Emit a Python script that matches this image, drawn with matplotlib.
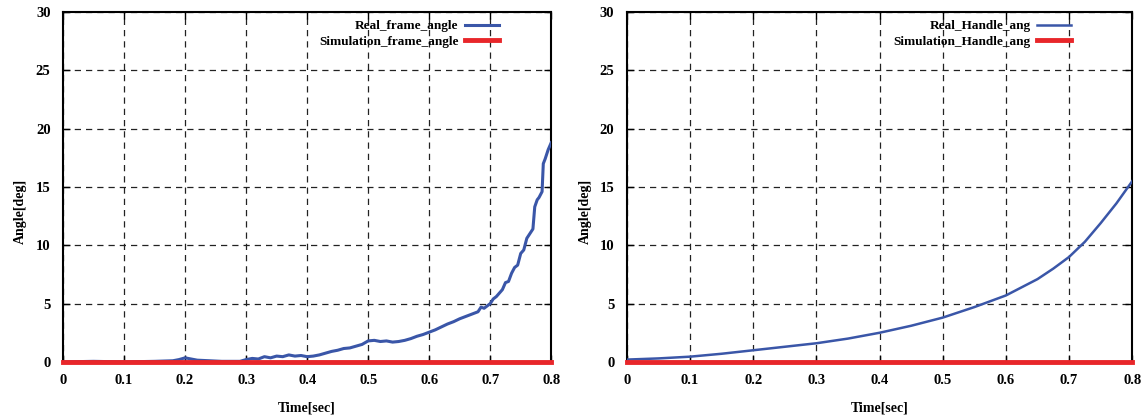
import matplotlib
matplotlib.use('Agg')
import matplotlib.pyplot as plt
import numpy as np

plt.rcParams['font.family'] = ['Liberation Serif', 'DejaVu Serif']
plt.rcParams['font.weight'] = 'bold'

# ---- data ----
t_frame = [0.00, 0.05, 0.10, 0.15, 0.18, 0.19, 0.20, 0.21, 0.22, 0.24, 0.26, 0.29,
           0.30, 0.31, 0.32, 0.33, 0.34, 0.35, 0.36, 0.37, 0.38, 0.39, 0.40, 0.41,
           0.42, 0.43, 0.44, 0.45, 0.46, 0.47, 0.48, 0.49, 0.50, 0.51, 0.52, 0.53,
           0.54, 0.55, 0.56, 0.57, 0.58, 0.59, 0.60, 0.61, 0.62, 0.63, 0.64, 0.65,
           0.66, 0.67, 0.68, 0.685, 0.69, 0.70, 0.705, 0.71, 0.72, 0.725, 0.73,
           0.735, 0.74, 0.745, 0.75, 0.755, 0.76, 0.765, 0.77, 0.773, 0.777, 0.78,
           0.785, 0.787, 0.79, 0.795, 0.80]
frame_real = [0.0, 0.05, 0.0, 0.05, 0.1, 0.2, 0.35, 0.25, 0.15, 0.1, 0.05, 0.05,
              0.2, 0.3, 0.25, 0.45, 0.35, 0.5, 0.45, 0.6, 0.5, 0.55, 0.45, 0.5,
              0.6, 0.75, 0.9, 1.0, 1.15, 1.2, 1.35, 1.5, 1.8, 1.85, 1.75, 1.8,
              1.7, 1.75, 1.85, 2.0, 2.2, 2.35, 2.55, 2.75, 3.0, 3.25, 3.45, 3.7,
              3.9, 4.1, 4.3, 4.7, 4.6, 5.0, 5.4, 5.6, 6.2, 6.8, 6.9, 7.6, 8.1, 8.3,
              9.3, 9.6, 10.6, 11.0, 11.4, 13.3, 13.9, 14.1, 14.6, 17.0, 17.4, 18.2,
              18.8]

t_handle = [0.0, 0.05, 0.1, 0.15, 0.2, 0.25, 0.3, 0.35, 0.4, 0.45, 0.5, 0.55,
            0.6, 0.65, 0.675, 0.7, 0.725, 0.75, 0.775, 0.8]
handle_real = [0.2, 0.3, 0.45, 0.7, 1.0, 1.3, 1.6, 2.0, 2.5, 3.1, 3.8, 4.7,
               5.7, 7.1, 8.0, 9.0, 10.3, 11.9, 13.6, 15.5]

t_sim = [0.0, 0.8]
sim_zero = [0.0, 0.0]

x_ticks = [0, 0.1, 0.2, 0.3, 0.4, 0.5, 0.6, 0.7, 0.8]
x_labels = ['0', '0.1', '0.2', '0.3', '0.4', '0.5', '0.6', '0.7', '0.8']
y_ticks = [0, 5, 10, 15, 20, 25, 30]

blue = '#3a56a8'
red = '#e8262a'

fig = plt.figure(figsize=(11.46, 4.16), dpi=100)
ax1 = fig.add_axes([0.055, 0.130, 0.426, 0.841])
ax2 = fig.add_axes([0.547, 0.130, 0.441, 0.841])

panels = [
    (ax1, t_frame, frame_real, 'Real_frame_angle', 'Simulation_frame_angle', 0.91, 2.2, -0.075),
    (ax2, t_handle, handle_real, 'Real_Handle_ang', 'Simulation_Handle_ang', 0.895, 1.8, -0.07),
]

for ax, tt, yy, lab_real, lab_sim, leg_x, lw, ylab_x in panels:
    ax.plot(tt, yy, color=blue, lw=lw, label=lab_real, zorder=3)
    ax.plot(t_sim, sim_zero, color=red, lw=3.5, label=lab_sim, zorder=4,
            clip_on=False)
    ax.set_xlim(0, 0.8)
    ax.set_ylim(0, 30)
    ax.set_xticks(x_ticks)
    ax.set_xticklabels(x_labels)
    ax.set_yticks(y_ticks)
    ax.grid(True, color='#222222', ls=(0, (5, 4)), lw=0.9)
    ax.tick_params(direction='in', top=True, right=True, labelsize=10.5,
                   length=5, width=1, pad=9)
    for sp in ax.spines.values():
        sp.set_linewidth(1.5)
    ax.set_xlabel('Time[sec]', fontsize=10, fontweight='bold', labelpad=10)
    ax.set_ylabel('Angle[deg]', fontsize=10, fontweight='bold')
    ax.yaxis.set_label_coords(ylab_x, 0.43)
    ax.legend(loc='upper right', bbox_to_anchor=(leg_x, 1.0), frameon=False,
              markerfirst=False, fontsize=9.5, handlelength=2.6,
              borderaxespad=0.2, labelspacing=0.25, handletextpad=0.5)

fig.savefig('out.png', dpi=100)
